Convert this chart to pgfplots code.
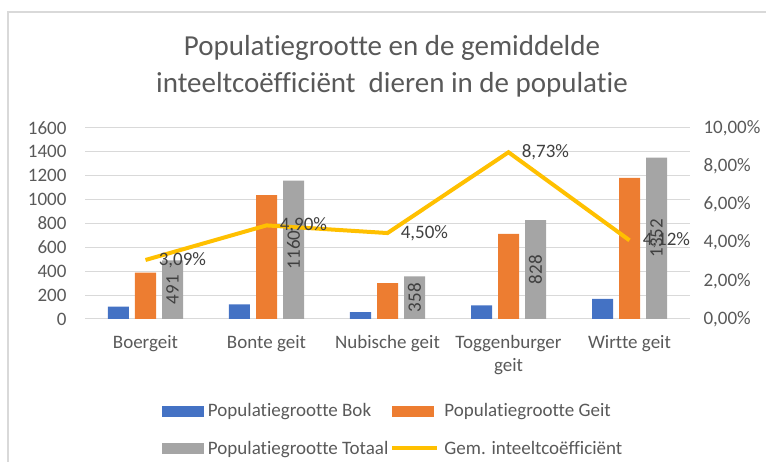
\documentclass[border=0pt]{standalone}
\usepackage{fontspec}
\setmainfont{Carlito}[Ligatures=NoCommon]
\usepackage{pgfplots}
\pgfplotsset{compat=1.18}
\definecolor{cbok}{HTML}{4472C4}
\definecolor{cgeit}{HTML}{ED7D31}
\definecolor{ctot}{HTML}{A5A5A5}
\definecolor{cgem}{HTML}{FFC000}
\definecolor{ctxt}{HTML}{595959}
\definecolor{clab}{HTML}{404040}
\definecolor{cgrid}{HTML}{D9D9D9}
\begin{document}
\begin{tikzpicture}
\path[use as bounding box] (0,0) rectangle (766bp,462bp);
\draw[cgrid, line width=1.5bp] (8bp,0) -- (8bp,450bp) -- (766bp,450bp);
\node[text=ctxt, align=center, font=\fontsize{29bp}{37bp}\selectfont] at (392bp,396bp)
  {Populatiegrootte en de gemiddelde\\inteeltcoëfficiënt\ \ dieren in de populatie};
\begin{axis}[
  at={(85bp,143bp)}, anchor=south west, scale only axis,
  width=605bp, height=191bp,
  ybar=6bp, bar width=21bp,
  xmin=-0.5, xmax=4.5, ymin=0, ymax=1600,
  xtick={0,1,2,3,4},
  xticklabels={Boergeit, Bonte geit, Nubische geit, {Toggenburger\\geit}, Wirtte geit},
  xticklabel style={align=center, yshift=-9bp},
  ytick={0,200,...,1600},
  yticklabel style={xshift=-15bp},
  ymajorgrids, grid style={cgrid, line width=1bp},
  axis x line*=bottom, axis y line*=left,
  y axis line style={draw=none},
  x axis line style={cgrid, line width=1bp, -},
  tick style={draw=none},
  tick label style={text=ctxt, font=\fontsize{19bp}{23bp}\selectfont},
  /pgf/number format/assume math mode=true,
  scaled y ticks=false,
  yticklabel style={/pgf/number format/1000 sep={}},
]
\addplot[fill=cbok, draw=none] coordinates {(0,103) (1,122) (2,58) (3,114) (4,169)};
\addplot[fill=cgeit, draw=none] coordinates {(0,388) (1,1038) (2,300) (3,714) (4,1183)};
\addplot[fill=ctot, draw=none, nodes near coords,
  visualization depends on=y \as \rawy,
  every node near coord/.append style={shift={(axis direction cs:0,-\rawy/2)}, rotate=90, anchor=center,
    text=clab, font=\fontsize{19bp}{23bp}\selectfont, /pgf/number format/1000 sep={}}]
  coordinates {(0,491) (1,1160) (2,358) (3,828) (4,1352)};
\end{axis}
\begin{axis}[
  at={(85bp,143bp)}, anchor=south west, scale only axis,
  width=605bp, height=191bp,
  xmin=-0.5, xmax=4.5, ymin=0, ymax=10,
  axis x line=none, axis y line*=right,
  y axis line style={draw=none},
  tick style={draw=none},
  ytick={0,2,...,10},
  yticklabel={\pgfmathprintnumber[fixed,fixed zerofill,precision=2,use comma]{\tick}\%},
  yticklabel style={xshift=10bp},
  tick label style={text=ctxt, font=\fontsize{19bp}{23bp}\selectfont},
  /pgf/number format/assume math mode=true,
  legend columns=2,
  legend cell align=left,
  legend style={at={(axis description cs:0.509,-0.42)}, anchor=north, draw=none, fill=none,
    text=ctxt, font=\fontsize{19bp}{23bp}\selectfont, row sep=19bp,
    /tikz/every odd column/.append style={column sep=3bp},
    /tikz/every even column/.append style={column sep=0bp}},
]
\addlegendimage{legend image code/.code={\fill[cbok] (0bp,-5bp) rectangle (41bp,5bp);}}
\addlegendentry{Populatiegrootte Bok}
\addlegendimage{legend image code/.code={\fill[cgeit] (0bp,-5bp) rectangle (41bp,5bp);}}
\addlegendentry{Populatiegrootte Geit}
\addlegendimage{legend image code/.code={\fill[ctot] (0bp,-5bp) rectangle (41bp,5bp);}}
\addlegendentry{Populatiegrootte Totaal}
\addlegendimage{legend image code/.code={\draw[cgem, line width=4bp] (0bp,0bp) -- (45bp,0bp);}}
\addlegendentry{Gem. inteeltcoëfficiënt}
\addplot[cgem, line width=4bp, mark=none, forget plot,
  nodes near coords={\pgfmathprintnumber[fixed,fixed zerofill,precision=2,use comma]{\pgfplotspointmeta}\%},
  every node near coord/.append style={anchor=west, xshift=8bp, text=clab, font=\fontsize{19bp}{23bp}\selectfont}]
  coordinates {(0,3.09) (1,4.90) (2,4.50) (3,8.73) (4,4.12)};
\end{axis}
\end{tikzpicture}
\end{document}
